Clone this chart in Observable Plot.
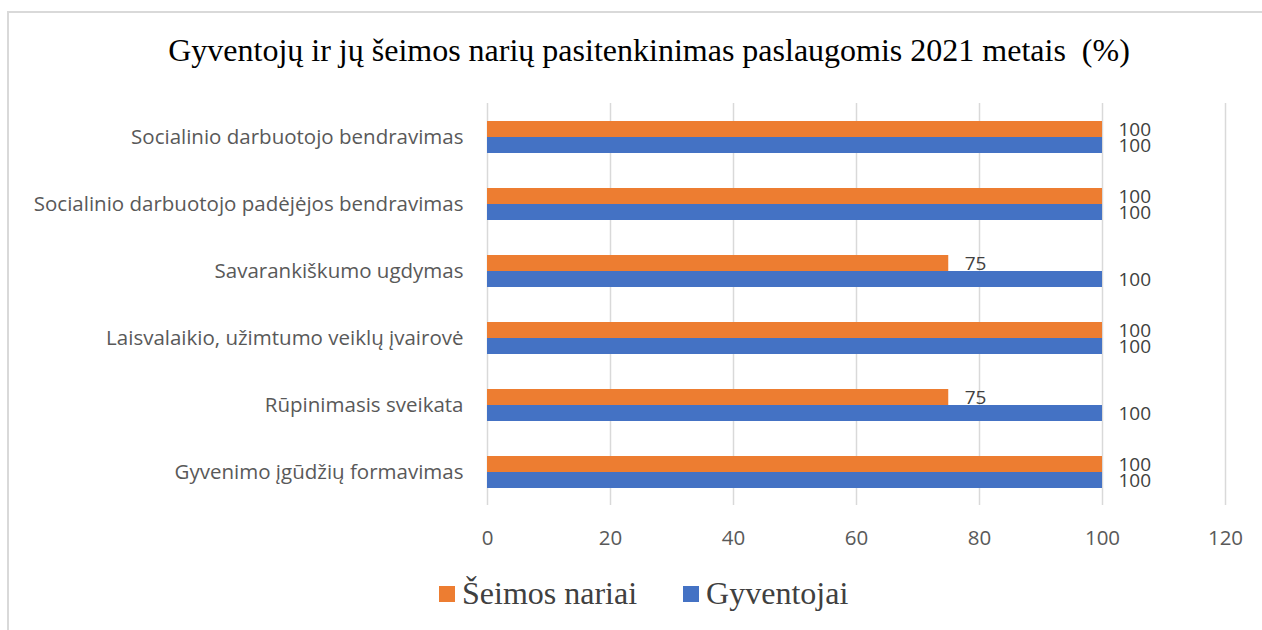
<!DOCTYPE html>
<html>
<head>
<meta charset="utf-8">
<script src="https://cdn.jsdelivr.net/npm/d3@7"></script>
<script src="https://cdn.jsdelivr.net/npm/@observablehq/plot@0.6"></script>
<style>
  html, body { margin: 0; padding: 0; background: #fff; }
  #wrap { position: relative; width: 1262px; height: 630px; overflow: hidden; background: #fff; }
  #frame { position: absolute; left: 7px; top: 11px; width: 1300px; height: 700px; border-top: 2px solid #d9d9d9; border-left: 2px solid #d9d9d9; }
  #title { position: absolute; top: 32px; left: 36px; width: 1226px; text-align: center; font-family: "Liberation Serif", "Times New Roman", serif; font-size: 32px; color: #000; white-space: pre; }
  #chart { position: absolute; top: 90px; left: 0; }
  #legend { position: absolute; top: 575px; left: 439px; display: flex; align-items: center; font-family: "Liberation Serif", "Times New Roman", serif; font-size: 32px; color: #404040; }
  .sw { display: inline-block; width: 16px; height: 16px; margin-right: 7px; }
  .item { display: flex; align-items: center; margin-right: 46px; }
</style>
</head>
<body>
<div id="wrap">
  <div id="frame"></div>
  <div id="title"></div>
  <div id="chart"></div>
  <div id="legend"></div>
</div>
<script>
const titleText = "Gyventojų ir jų šeimos narių pasitenkinimas paslaugomis 2021 metais  (%)";
const categories = [
  "Socialinio darbuotojo bendravimas",
  "Socialinio darbuotojo padėjėjos bendravimas",
  "Savarankiškumo ugdymas",
  "Laisvalaikio, užimtumo veiklų įvairovė",
  "Rūpinimasis sveikata",
  "Gyvenimo įgūdžių formavimas"
];
const series = ["Šeimos nariai", "Gyventojai"];
const seimosNariai = [100, 100, 75, 100, 75, 100];
const gyventojai = [100, 100, 100, 100, 100, 100];
const xTicks = [0, 20, 40, 60, 80, 100, 120];
const colors = ["#ED7D31", "#4472C4"];

const rows = categories.flatMap((c, i) => [
  {category: c, series: series[0], value: seimosNariai[i]},
  {category: c, series: series[1], value: gyventojai[i]}
]);

document.getElementById("title").textContent = titleText;

const chart = Plot.plot({
  width: 1262,
  height: 470,
  marginTop: 11,
  marginBottom: 53,
  marginLeft: 487,
  marginRight: 37,
  style: {fontFamily: "'Open Sans', sans-serif", fontSize: "20.5px", color: "#595959", background: "transparent"},
  facet: {data: rows, y: "category"},
  fy: {domain: categories, padding: 0, label: null, tickSize: 0, tickPadding: 24},
  y: {domain: series, paddingInner: 0, paddingOuter: 0.98, axis: null},
  x: {domain: [0, 120], ticks: xTicks, tickSize: 0, tickPadding: 25, label: null},
  color: {domain: series, range: colors},
  marks: [
    Plot.ruleX(xTicks, {stroke: "#d9d9d9", strokeWidth: 1.5}),
    Plot.barX(rows, {x: "value", y: "series", fill: "series"}),
    Plot.text(rows, {x: "value", y: "series", text: d => String(d.value), dx: 16, textAnchor: "start", fill: "#404040", fontSize: 19})
  ]
});
document.getElementById("chart").appendChild(chart);

const legend = document.getElementById("legend");
series.forEach((s, i) => {
  const item = document.createElement("div");
  item.className = "item";
  const sw = document.createElement("span");
  sw.className = "sw";
  sw.style.background = colors[i];
  const t = document.createElement("span");
  t.textContent = s;
  item.appendChild(sw);
  item.appendChild(t);
  legend.appendChild(item);
});
</script>
</body>
</html>
